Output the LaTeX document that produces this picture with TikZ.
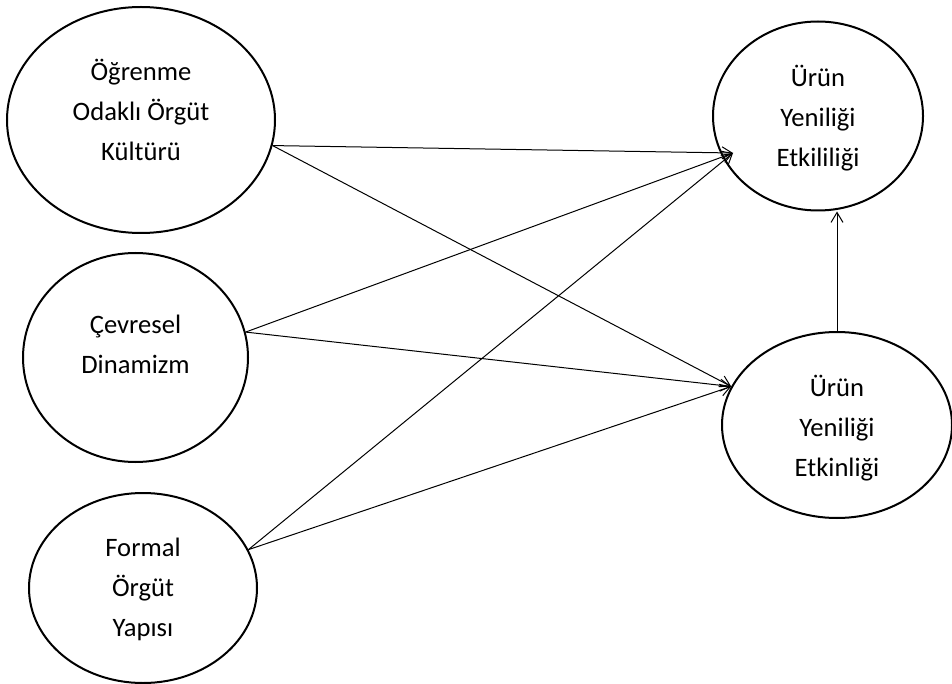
\documentclass[tikz,border=0pt]{standalone}
\usepackage{fontspec}
\setmainfont{Carlito}
\usetikzlibrary{arrows.meta,shapes.geometric}

\begin{document}
\begin{tikzpicture}[x=0.5pt, y=-0.5pt, >={Straight Barb[length=5pt,width=6pt]},
  font=\fontsize{13.3}{20}\selectfont,
  var/.style={draw, ellipse, line width=1pt, inner sep=0pt},
  txt/.style={align=center, inner sep=0pt},
  link/.style={->, line width=0.5pt}]
  \useasboundingbox (0,0) rectangle (952,684);
  % latent variables
  \node[var, minimum width=134pt, minimum height=113pt] (kultur) at (141,120) {};
  \node[var, minimum width=112.5pt, minimum height=104.5pt] (dinamizm) at (135.5,357.5) {};
  \node[var, minimum width=114pt, minimum height=95pt] (yapi) at (143,588) {};
  \node[var, minimum width=105pt, minimum height=94.5pt] (etkililik) at (818,116) {};
  \node[var, minimum width=115pt, minimum height=93pt] (etkinlik) at (837,425) {};
  % labels
  \node[txt] (kulturT) at (141,110) {Öğrenme\\Odaklı Örgüt\\Kültürü};
  \node[txt] (dinamizmT) at (135.5,344) {Çevresel\\Dinamizm};
  \node[txt] (yapiT) at (143,589) {Formal\\Örgüt\\Yapısı};
  \node[txt] (etkililikT) at (818,118) {Ürün\\Yeniliği\\Etkililiği};
  \node[txt] (etkinlikT) at (837,428) {Ürün\\Yeniliği\\Etkinliği};
  \coordinate (inEtkililik) at (733,153);
  \coordinate (inEtkinlik) at (etkinlik.160);
  \draw[link] (kultur.-11) -- (inEtkililik);
  \draw[link] (kultur.-11) -- (inEtkinlik);
  \draw[link] (dinamizm.13) -- (inEtkililik);
  \draw[link] (dinamizm.13) -- (inEtkinlik);
  \draw[link] (yapi.20) -- (inEtkililik);
  \draw[link] (yapi.20) -- (inEtkinlik);
  \draw[link] (etkinlik.north) -- (etkinlik.north |- etkililik.south);
\end{tikzpicture}
\end{document}
